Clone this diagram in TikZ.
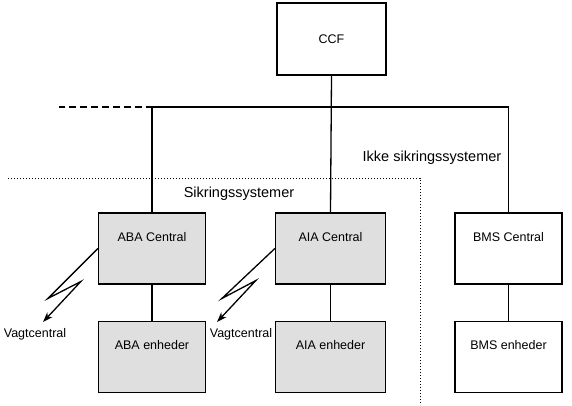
\documentclass[tikz,border=0pt]{standalone}
\usepackage{fontspec}
\setmainfont{Liberation Sans}
\usetikzlibrary{arrows.meta,positioning}

\begin{document}
\begin{tikzpicture}[x=1pt, y=-1pt,
    box/.style={rectangle, draw, line width=1.3pt, minimum width=107pt, minimum height=71pt, inner sep=0pt, text height=28pt, text depth=43pt, font=\fontsize{12.5}{14}\selectfont},
    sikker/.style={box, fill=gray!25},
    zone/.style={font=\fontsize{14.5}{16}\selectfont},
    link/.style={draw, line width=1.3pt},
    zap/.style={draw, line width=1.3pt, -{Stealth[length=10pt,width=7pt,inset=3pt]}},
    node distance=36pt]

    \useasboundingbox (0,0) rectangle (572,405);

    % Node for the CCF
    \node [box, minimum width=109pt, minimum height=72pt, text height=9pt, text depth=0pt] (ccf) at (331.5,39) {CCF};

    % Nodes for the centrals
    \node [sikker] (abac) at (152,248.5) {ABA Central};
    \node [sikker, minimum width=110pt] (aiac) at (330.5,248.5) {AIA Central};
    \node [box] (bmsc) at (508.5,248.5) {BMS Central};

    % Nodes for the units
    \node [sikker, below=36pt of abac] (abae) {ABA enheder};
    \node [sikker, minimum width=110pt, below=36pt of aiac] (aiae) {AIA enheder};
    \node [box, below=36pt of bmsc] (bmse) {BMS enheder};

    % Nodes for the alarm receivers
    \node [font=\fontsize{12.5}{14}\selectfont] (vagt1) at (35,334) {Vagtcentral};
    \node [font=\fontsize{12.5}{14}\selectfont] (vagt2) at (241,334) {Vagtcentral};

    % Zone labels
    \node [zone] (ikke) at (432,158) {Ikke sikringssystemer};
    \node [zone] (sikring) at (239,194) {Sikringssystemer};

    % Bus and its dashed end
    \coordinate (bus) at (153,107);
    \coordinate (busend) at (59,107);
    \draw [link] (abac.north) |- (bus) -| (bmsc.north);
    \draw [link] (ccf.south) -- (aiac.north);
    \draw [link, dash pattern=on 7pt off 4pt] (bus) -- (busend);

    % Central to units
    \draw [link] (abac) -- (abae);
    \draw [link] (aiac) -- (aiae);
    \draw [link] (bmsc) -- (bmse);

    % Dotted border of the secured zone
    \coordinate (zonel) at (8,178);
    \coordinate (zoneb) at (420,405);
    \draw [line width=1pt, dash pattern=on 1.2pt off 1.8pt] (zonel) -| (zoneb);

    % Radio links to the alarm receivers
    \draw [zap] (abac.west) -- ++(-50,50) -- ++(33,-17) -- ([shift={(8,-12)}]vagt1.center);
    \draw [zap] (aiac.west) -- ++(-53,50) -- ++(34,-18) -- ([shift={(-24,-12)}]vagt2.center);
\end{tikzpicture}
\end{document}
